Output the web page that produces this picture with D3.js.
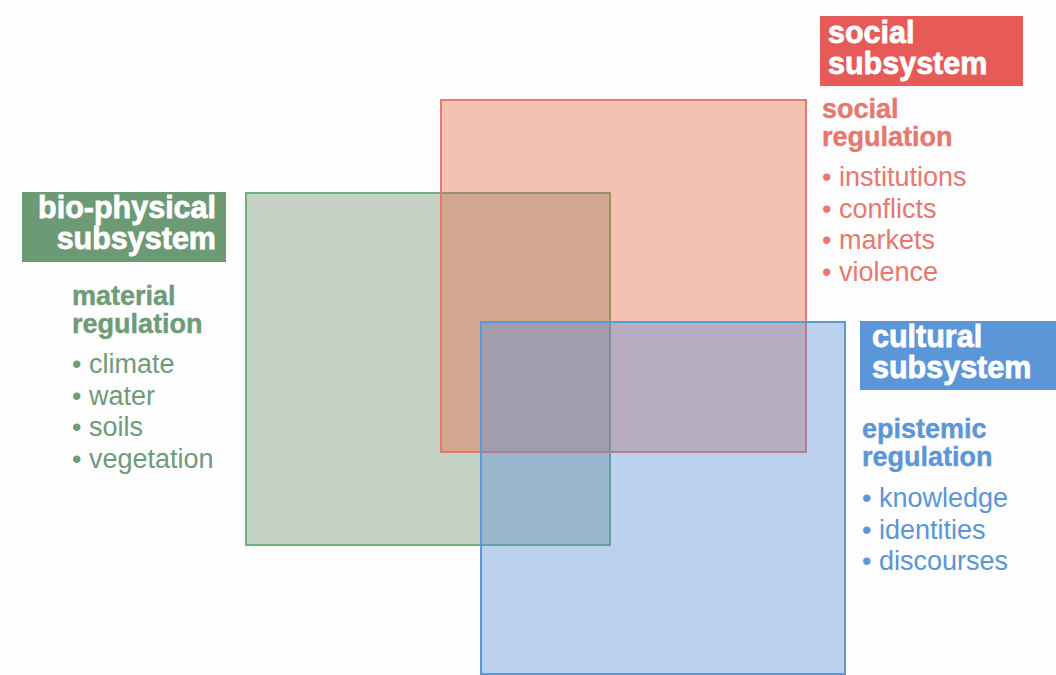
<!DOCTYPE html>
<html>
<head>
<meta charset="utf-8">
<script src="https://cdn.jsdelivr.net/npm/d3@7"></script>
<style>
    html, body { margin: 0; padding: 0; background: #fdfdfd; }
    svg { display: block; font-family: "Liberation Sans", Arial, sans-serif; }
</style>
</head>
<body>
<div id="chart"></div>
<script>
// subsystems, drawn in this order (green under red under blue)
var gKeys = ['bio', 'social', 'cultural'];
var gTitles = [['bio-physical', 'subsystem'], ['social', 'subsystem'], ['cultural', 'subsystem']];
var gRegulation = [['material', 'regulation'], ['social', 'regulation'], ['epistemic', 'regulation']];
var gItems = [
    ['climate', 'water', 'soils', 'vegetation'],
    ['institutions', 'conflicts', 'markets', 'violence'],
    ['knowledge', 'identities', 'discourses']
];
// extent of each square in diagram units [x0, x1, y0, y1]
var gExtents = [
    [246, 610, 193, 545],
    [441, 806, 100, 452],
    [481, 845, 322, 674]
];

var gSettings = {
    width : 1056,
    height : 675,
    fill : ['rgb(110,148,113)', 'rgb(233,103,66)', 'rgb(91,143,215)'],
    stroke : ['#6cb07f', '#e8786c', '#5b9ad8'],
    box : ['#6c9a75', '#e65b58', '#5b96d8'],
    text : ['#6e9b78', '#e8776e', '#5b96d8'],
    // box [x, y, w, h], title anchor and text block positions
    boxes : [[22, 192, 204, 70], [820, 16, 203, 70], [860, 321, 196, 69]],
    titleX : [216, 828, 872],
    titleAnchor : ['end', 'start', 'start'],
    titleY : [218, 43, 347],
    blockX : [72, 822, 862],
    regY : [305, 118, 438],
    itemY : [373, 186, 507]
};

function drawChart(){
    var svg = d3.select('#chart').append('svg')
        .attr('width', gSettings.width)
        .attr('height', gSettings.height);

    svg.append('rect')
        .attr('width', gSettings.width)
        .attr('height', gSettings.height)
        .attr('fill', '#fdfdfd');

    var x = d3.scaleLinear().domain([0, 1056]).range([0, gSettings.width]),
        y = d3.scaleLinear().domain([0, 675]).range([0, gSettings.height]);

    //the overlapping squares
    svg.append('g').selectAll('rect')
        .data(gExtents)
        .join('rect')
        .attr('x', function(d){ return x(d[0]); })
        .attr('y', function(d){ return y(d[2]); })
        .attr('width', function(d){ return x(d[1]) - x(d[0]); })
        .attr('height', function(d){ return y(d[3]) - y(d[2]); })
        .attr('fill', function(d, i){ return gSettings.fill[i]; })
        .attr('fill-opacity', 0.4)
        .attr('stroke', function(d, i){ return gSettings.stroke[i]; })
        .attr('stroke-width', 2);

    //labels for each subsystem
    gKeys.forEach(function(key, i){
        var g = svg.append('g').attr('class', 'label-' + key),
            b = gSettings.boxes[i];

        g.append('rect')
            .attr('x', b[0]).attr('y', b[1])
            .attr('width', b[2]).attr('height', b[3])
            .attr('fill', gSettings.box[i]);

        g.selectAll('text.title')
            .data(gTitles[i])
            .join('text')
            .attr('class', 'title')
            .attr('x', gSettings.titleX[i])
            .attr('y', function(d, j){ return gSettings.titleY[i] + j * 31; })
            .attr('text-anchor', gSettings.titleAnchor[i])
            .attr('font-size', 30.5)
            .attr('font-weight', 'bold')
            .attr('fill', '#ffffff')
            .attr('stroke', '#ffffff')
            .attr('stroke-width', 0.8)
            .text(function(d){ return d; });

        g.selectAll('text.reg')
            .data(gRegulation[i])
            .join('text')
            .attr('class', 'reg')
            .attr('x', gSettings.blockX[i])
            .attr('y', function(d, j){ return gSettings.regY[i] + j * 28; })
            .attr('font-size', 27)
            .attr('font-weight', 'bold')
            .attr('fill', gSettings.text[i])
            .attr('stroke', gSettings.text[i])
            .attr('stroke-width', 0.4)
            .text(function(d){ return d; });

        g.selectAll('text.item')
            .data(gItems[i])
            .join('text')
            .attr('class', 'item')
            .attr('x', gSettings.blockX[i])
            .attr('y', function(d, j){ return gSettings.itemY[i] + j * 31.5; })
            .attr('font-size', 27)
            .attr('fill', gSettings.text[i])
            .text(function(d){ return '\u2022 ' + d; });
    });
}

drawChart();
</script>
</body>
</html>
